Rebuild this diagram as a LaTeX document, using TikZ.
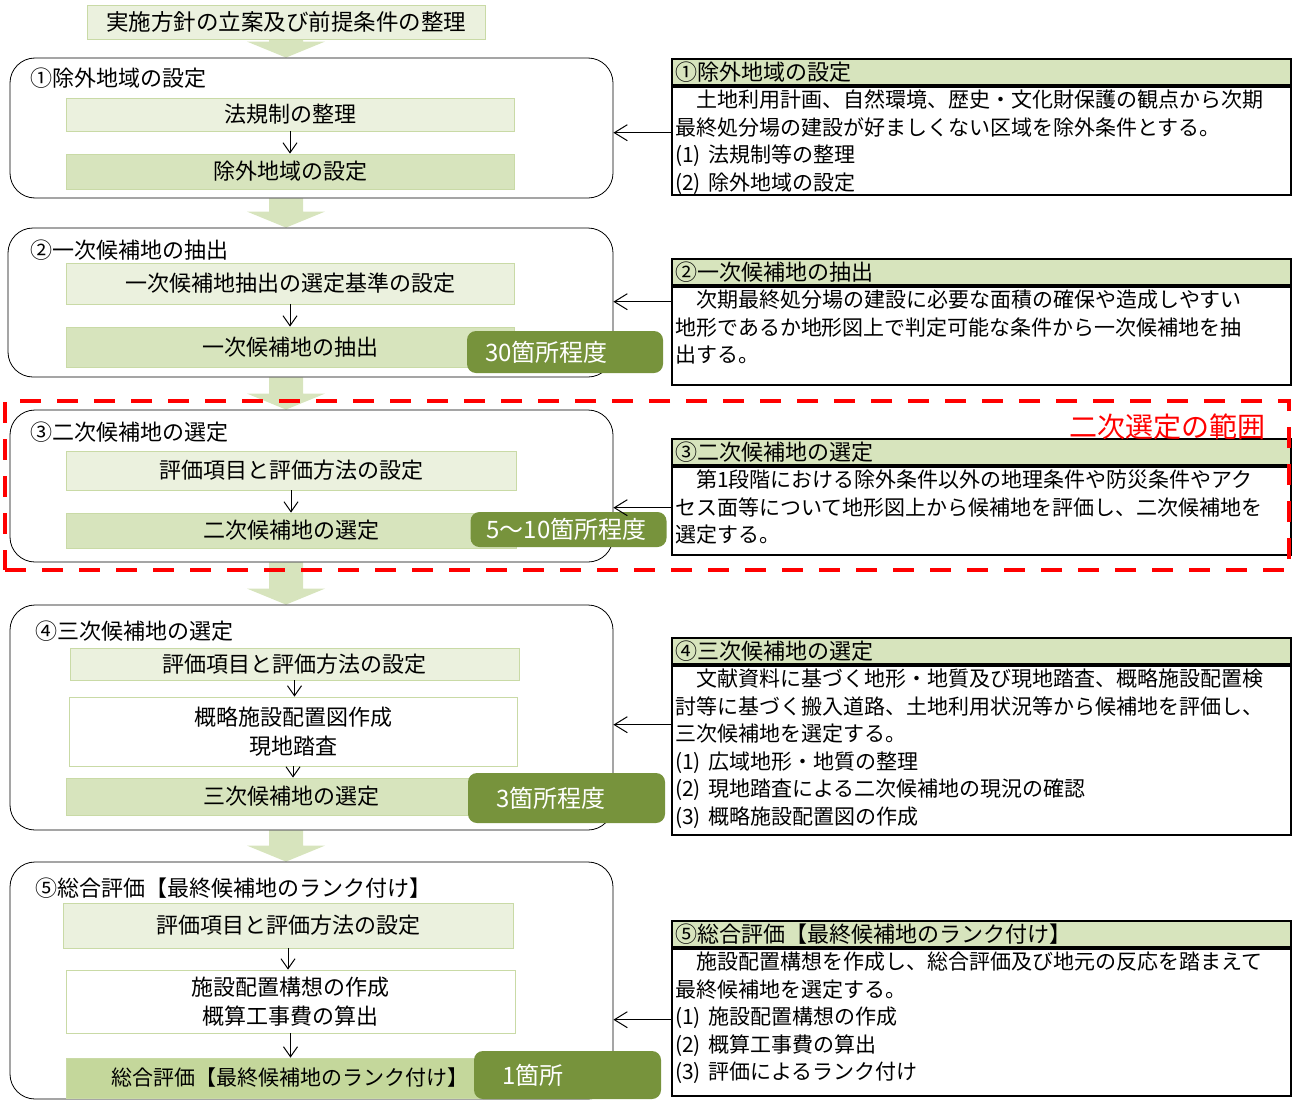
\documentclass[tikz,border=0pt]{standalone}
\usepackage{fontspec}
\setmainfont{Noto Sans CJK JP}
\usetikzlibrary{arrows.meta, calc, backgrounds}

\definecolor{lightg}{HTML}{EBF1DE}
\definecolor{midg}{HTML}{D7E4BD}
\definecolor{deepg}{HTML}{C4D79B}
\definecolor{edgeg}{HTML}{C9DAA6}
\definecolor{olive}{HTML}{77933C}

% fat green arrow between two stages
\newcommand{\bigarrow}[2]{%
  \fill[midg] ($(#1.south -| plan)+(-17,0)$) -- ($(#2.north -| plan)+(-17,-16)$)
    -- ($(#2.north -| plan)+(-39,-16)$) -- (#2.north -| plan)
    -- ($(#2.north -| plan)+(39,-16)$) -- ($(#2.north -| plan)+(17,-16)$)
    -- ($(#1.south -| plan)+(17,0)$) -- cycle;}

\begin{document}
\begin{tikzpicture}[x=1pt, y=-1pt,
    stage/.style={draw, line width=0.8pt, rounded corners=25pt, fill=white},
    stagetitle/.style={anchor=west, inner sep=0pt, font=\fontsize{22}{27}\selectfont},
    stepa/.style={draw=edgeg, line width=0.8pt, fill=lightg, align=center, inner sep=0pt,
        font=\fontsize{22}{29}\selectfont},
    stepb/.style={stepa, fill=midg},
    stepw/.style={stepa, fill=white},
    badge/.style={fill=olive, rounded corners=9pt, text=white, align=left,
        inner xsep=18pt, inner ysep=0pt, font=\fontsize{24}{28}\selectfont},
    notehead/.style={draw, line width=1.8pt, fill=midg, anchor=north west,
        minimum width=619pt, minimum height=26pt, text width=611pt, inner xsep=4pt,
        inner ysep=0pt, align=left, font=\fontsize{22}{26}\selectfont},
    notebox/.style={draw, line width=1.8pt, anchor=north west, minimum width=619pt},
    notetext/.style={anchor=north west, text width=612pt, inner xsep=4pt, inner ysep=4pt,
        align=left, font=\fontsize{21}{27.5}\selectfont},
    flow/.style={-{Straight Barb[length=10pt,width=14pt]}, line width=1pt},
    back/.style={-{Straight Barb[length=13pt,width=16pt]}, line width=1pt},
    rangebox/.style={draw=red, line width=4.5pt, dash pattern=on 21pt off 16pt}]

    \useasboundingbox (0,0) rectangle (1293,1100);

    \node[stepa, minimum width=398pt, minimum height=34pt, font=\fontsize{22.5}{27}\selectfont]
        (plan) at (286,22) {実施方針の立案及び前提条件の整理};

    % stage 1
    \node[stage, minimum width=603pt, minimum height=140pt] (s1) at (311.5,128) {};
    \node[stagetitle] (t1) at (30,78) {①除外地域の設定};
    \node[stepa, minimum width=448pt, minimum height=33pt] (s1a) at (290,114.5) {法規制の整理};
    \node[stepb, minimum width=448pt, minimum height=35pt] (s1b) at (290,171.5) {除外地域の設定};
    \draw[flow] (s1a) -- (s1b);

    % stage 2
    \node[stage, minimum width=605pt, minimum height=149pt] (s2) at (310.5,302.5) {};
    \node[stagetitle] (t2) at (30,250) {②一次候補地の抽出};
    \node[stepa, minimum width=448pt, minimum height=41pt] (s2a) at (290,283.5) {一次候補地抽出の選定基準の設定};
    \node[stepb, minimum width=448pt, minimum height=40pt] (s2b) at (290,347) {一次候補地の抽出};
    \draw[flow] (s2a) -- (s2b);
    \node[badge, text width=160pt, minimum height=42pt] (b2) at (565,352) {30箇所程度};

    % stage 3
    \node[stage, minimum width=603pt, minimum height=152pt] (s3) at (311.5,486) {};
    \node[stagetitle] (t3) at (30,432) {③二次候補地の選定};
    \node[stepa, minimum width=450pt, minimum height=39pt] (s3a) at (291,470.5) {評価項目と評価方法の設定};
    \node[stepb, minimum width=450pt, minimum height=35pt] (s3b) at (291,530.5) {二次候補地の選定};
    \draw[flow] (s3a) -- (s3b);
    \node[badge, text width=164pt, minimum height=35pt, inner xsep=16pt] (b3) at (568.5,529.5) {5〜10箇所程度};

    % stage 4
    \node[stage, minimum width=603pt, minimum height=225pt] (s4) at (311.5,717.5) {};
    \node[stagetitle] (t4) at (35,631) {④三次候補地の選定};
    \node[stepa, minimum width=449pt, minimum height=32pt] (s4a) at (294.5,664) {評価項目と評価方法の設定};
    \node[stepw, minimum width=448pt, minimum height=69pt] (s4b) at (293,731.5) {概略施設配置図作成\\現地踏査};
    \node[stepb, minimum width=450pt, minimum height=37pt] (s4c) at (291,796.5) {三次候補地の選定};
    \draw[flow] (s4a) -- (s4a |- s4b.north);
    \draw[flow] (s4b) -- (s4b |- s4c.north);
    \node[badge, text width=141pt, minimum height=50pt, inner xsep=28pt] (b4) at (566.5,798) {3箇所程度};

    % stage 5
    \node[stage, minimum width=603pt, minimum height=237pt] (s5) at (311.5,980.5) {};
    \node[stagetitle] (t5) at (35,888) {⑤総合評価【最終候補地のランク付け】};
    \node[stepa, minimum width=450pt, minimum height=45pt] (s5a) at (288,925.5) {評価項目と評価方法の設定};
    \node[stepw, minimum width=449pt, minimum height=63pt] (s5b) at (290.5,1001.5) {施設配置構想の作成\\概算工事費の算出};
    \node[stepb, fill=deepg, minimum width=448pt, minimum height=40pt, font=\fontsize{21}{26}\selectfont]
        (s5c) at (290,1078) {総合評価【最終候補地のランク付け】};
    \draw[flow] (s5a) -- (s5a |- s5b.north);
    \draw[flow] (s5b) -- (s5b |- s5c.north);
    \node[badge, text width=131pt, minimum height=48pt, inner xsep=28pt] (b5) at (567.5,1075) {1箇所};

    % notes on the right
    \node[notehead] (h1) at (671,58) {①除外地域の設定};
    \node[notebox, minimum height=108pt] (r1) at (h1.south west) {};
    \node[notetext] (r1t) at (r1.north west) {　土地利用計画、自然環境、歴史・文化財保護の観点から次期\\最終処分場の建設が好ましくない区域を除外条件とする。\\(1) 法規制等の整理\\(2) 除外地域の設定};

    \node[notehead] (h2) at (671,258) {②一次候補地の抽出};
    \node[notebox, minimum height=98pt] (r2) at (h2.south west) {};
    \node[notetext] (r2t) at (r2.north west) {　次期最終処分場の建設に必要な面積の確保や造成しやすい\\地形であるか地形図上で判定可能な条件から一次候補地を抽\\出する。};

    \node[notehead] (h3) at (671,438) {③二次候補地の選定};
    \node[notebox, minimum height=88pt] (r3) at (h3.south west) {};
    \node[notetext] (r3t) at (r3.north west) {　第1段階における除外条件以外の地理条件や防災条件やアク\\セス面等について地形図上から候補地を評価し、二次候補地を\\選定する。};

    \node[notehead] (h4) at (671,637) {④三次候補地の選定};
    \node[notebox, minimum height=169pt] (r4) at (h4.south west) {};
    \node[notetext] (r4t) at (r4.north west) {　文献資料に基づく地形・地質及び現地踏査、概略施設配置検\\討等に基づく搬入道路、土地利用状況等から候補地を評価し、\\三次候補地を選定する。\\(1) 広域地形・地質の整理\\(2) 現地踏査による二次候補地の現況の確認\\(3) 概略施設配置図の作成};

    \node[notehead] (h5) at (671,920) {⑤総合評価【最終候補地のランク付け】};
    \node[notebox, minimum height=147pt] (r5) at (h5.south west) {};
    \node[notetext] (r5t) at (r5.north west) {　施設配置構想を作成し、総合評価及び地元の反応を踏まえて\\最終候補地を選定する。\\(1) 施設配置構想の作成\\(2) 概算工事費の算出\\(3) 評価によるランク付け};

    \draw[back] ([yshift=8pt]r1.west) -- ([yshift=8pt]r1.west -| s1.east);
    \draw[back] ([yshift=34pt]r2.west) -- ([yshift=34pt]r2.west -| s2.east);
    \draw[back] ([yshift=3pt]r3.west) -- ([yshift=3pt]r3.west -| s3.east);
    \draw[back] ([yshift=25.5pt]r4.west) -- ([yshift=25.5pt]r4.west -| s4.east);
    \draw[back] ([yshift=2.5pt]r5.west) -- ([yshift=2.5pt]r5.west -| s5.east);

    \begin{scope}[on background layer]
        \bigarrow{plan}{s1}
        \bigarrow{s1}{s2}
        \bigarrow{s2}{s3}
        \bigarrow{s3}{s4}
        \bigarrow{s4}{s5}
    \end{scope}

    % range of the second selection
    \node[rangebox, minimum width=1284pt, minimum height=169pt, inner sep=0pt] (rng) at (647,485.5) {};
    \node[text=red, anchor=east, inner sep=0pt, font=\fontsize{28}{32}\selectfont] (rnglabel) at (1266,427) {二次選定の範囲};
\end{tikzpicture}
\end{document}
